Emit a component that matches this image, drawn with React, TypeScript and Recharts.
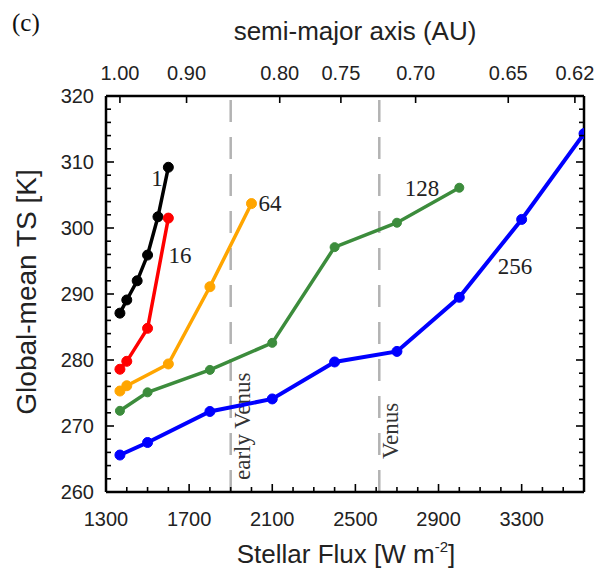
import React from "react";
import { LineChart, Line, XAxis, YAxis, ReferenceLine, ReferenceDot } from "recharts";

const SANS = '"Liberation Sans", Arial, Helvetica, sans-serif';
const SERIF = '"Liberation Serif", "Times New Roman", serif';

// solar constant used to map flux -> semi-major axis on the top axis
const SOLAR = 1367;

const FLUX_1 = [1367, 1400, 1450, 1500, 1550, 1600];
const TS_1 = [287.1, 289.1, 292.0, 295.9, 301.7, 309.2];

const FLUX_16 = [1367, 1400, 1500, 1600];
const TS_16 = [278.6, 279.8, 284.8, 301.5];

const FLUX_64 = [1367, 1400, 1600, 1800, 2000];
const TS_64 = [275.3, 276.1, 279.4, 291.1, 303.7];

const FLUX_128 = [1367, 1500, 1800, 2100, 2400, 2700, 3000];
const TS_128 = [272.3, 275.1, 278.5, 282.6, 297.1, 300.8, 306.1];

const FLUX_256 = [1367, 1500, 1800, 2100, 2400, 2700, 3000, 3300, 3600];
const TS_256 = [265.6, 267.5, 272.2, 274.1, 279.7, 281.3, 289.5, 301.3, 314.3];

const TAG_TEXT = ["1", "16", "64", "128", "256"];
const TAG_FLUX = [1545, 1656, 2089, 2821, 3268];
const TAG_TS = [307.6, 295.9, 303.8, 306.1, 294.2];

const FLUX_TICKS = [1300, 1700, 2100, 2500, 2900, 3300];
const TS_TICKS = [260, 270, 280, 290, 300, 310, 320];
const AU_TICKS = [1.0, 0.9, 0.8, 0.75, 0.7, 0.65, 0.62];
const AU_LABELS = ["1.00", "0.90", "0.80", "0.75", "0.70", "0.65", "0.62"];

const EARLY_VENUS = 1900;
const VENUS = 2615;

const range = (a: number, b: number, step: number) => {
  const out: number[] = [];
  for (let v = a; v <= b; v += step) out.push(v);
  return out;
};
const FLUX_ALL = range(1300, 3500, 100);
const TS_ALL = range(260, 320, 2);
const AU_FLUX = AU_TICKS.map((a) => SOLAR / (a * a));

const pts = (flux: number[], ts: number[]) => flux.map((f, i) => ({ flux: f, ts: ts[i] }));

const SERIES = [
  { key: "1", data: pts(FLUX_1, TS_1), color: "#000000", width: 3.5, r: 5 },
  { key: "16", data: pts(FLUX_16, TS_16), color: "#ff0000", width: 3.5, r: 5 },
  { key: "64", data: pts(FLUX_64, TS_64), color: "#ffa500", width: 3.5, r: 5 },
  { key: "128", data: pts(FLUX_128, TS_128), color: "#3c8c3c", width: 3.5, r: 4.5 },
  { key: "256", data: pts(FLUX_256, TS_256), color: "#0000ff", width: 4, r: 5 },
];

function BottomTick({ x, y, payload }: any) {
  const major = FLUX_TICKS.includes(payload.value);
  return (
    <g>
      <line x1={x} y1={y} x2={x} y2={y - (major ? 8 : 5)} stroke="#000" strokeWidth={1.6} />
      {major && (
        <text x={x} y={y + 34} textAnchor="middle" fontSize={20} fill="#222" fontFamily={SANS}>
          {payload.value}
        </text>
      )}
    </g>
  );
}

function TopTick({ x, y, payload }: any) {
  let idx = 0;
  AU_FLUX.forEach((f, i) => {
    if (Math.abs(f - payload.value) < Math.abs(AU_FLUX[idx] - payload.value)) idx = i;
  });
  return (
    <g>
      <line x1={x} y1={y} x2={x} y2={y + 7} stroke="#000" strokeWidth={1.6} />
      <text x={x} y={y - 16} textAnchor="middle" fontSize={20} fill="#222" fontFamily={SANS}>
        {AU_LABELS[idx]}
      </text>
    </g>
  );
}

function LeftTick({ x, y, payload }: any) {
  const major = TS_TICKS.includes(payload.value);
  return (
    <g>
      <line x1={x} y1={y} x2={x + (major ? 8 : 5)} y2={y} stroke="#000" strokeWidth={1.6} />
      {major && (
        <text x={x - 12} y={y + 7} textAnchor="end" fontSize={20} fill="#222" fontFamily={SANS}>
          {payload.value}
        </text>
      )}
    </g>
  );
}

function RightTick({ x, y, payload }: any) {
  const major = TS_TICKS.includes(payload.value);
  return <line x1={x} y1={y} x2={x - (major ? 8 : 5)} y2={y} stroke="#000" strokeWidth={1.6} />;
}

const vtag = (text: string, lift: number) => (props: any) => {
  const vb = props.viewBox;
  const bx = vb.x + 19;
  const by = vb.y + vb.height - lift;
  return (
    <text
      x={bx}
      y={by}
      transform={`rotate(-90 ${bx} ${by})`}
      fontSize={23}
      fill="#333"
      fontFamily={SERIF}
    >
      {text}
    </text>
  );
};

const tag = (text: string) => (props: any) => {
  const vb = props.viewBox;
  return (
    <text
      x={vb.x + vb.width / 2}
      y={vb.y + vb.height / 2 + 8}
      textAnchor="middle"
      fontSize={23}
      fill="#222"
      fontFamily={SERIF}
    >
      {text}
    </text>
  );
};

const topTitle = () => (
  <g>
    <text x={12} y={31} fontSize={25} fill="#111" fontFamily={SERIF}>
      (c)
    </text>
    <text x={355} y={40} textAnchor="middle" fontSize={26} fill="#222" fontFamily={SANS}>
      semi-major axis (AU)
    </text>
  </g>
);

const bottomTitle = () => (
  <text x={346} y={563} textAnchor="middle" fontSize={26} fill="#222" fontFamily={SANS}>
    Stellar Flux [W m
    <tspan fontSize={15} dy={-11}>-2</tspan>
    <tspan dy={11}>]</tspan>
  </text>
);

const leftTitle = () => (
  <text
    x={36}
    y={292}
    transform="rotate(-90 36 292)"
    textAnchor="middle"
    fontSize={28}
    fill="#222"
    fontFamily={SANS}
  >
    Global-mean TS [K]
  </text>
);

export default function App() {
  return (
    <div style={{ position: "absolute", left: 0, top: 0, width: 597, height: 572, background: "#fff" }}>
      <LineChart width={597} height={572} margin={{ top: 0, right: 0, bottom: 0, left: 0 }}>
        <XAxis
          xAxisId="bottom"
          dataKey="flux"
          type="number"
          domain={[1300, 3600]}
          ticks={FLUX_ALL}
          interval={0}
          height={80}
          tickSize={0}
          tickMargin={0}
          tickLine={false}
          tick={<BottomTick />}
          axisLine={{ stroke: "#000", strokeWidth: 2.5 }}
          allowDataOverflow
          label={bottomTitle}
        />
        <XAxis
          xAxisId="top"
          orientation="top"
          dataKey="flux"
          type="number"
          domain={[1300, 3600]}
          ticks={AU_FLUX}
          interval={0}
          height={96}
          tickSize={0}
          tickMargin={0}
          tickLine={false}
          tick={<TopTick />}
          axisLine={{ stroke: "#000", strokeWidth: 2.5 }}
          allowDataOverflow
          label={topTitle}
        />
        <YAxis
          yAxisId="left"
          type="number"
          domain={[260, 320]}
          ticks={TS_ALL}
          interval={0}
          width={106}
          tickSize={0}
          tickMargin={0}
          tickLine={false}
          tick={<LeftTick />}
          axisLine={{ stroke: "#000", strokeWidth: 2.5 }}
          allowDataOverflow
          label={leftTitle}
        />
        <YAxis
          yAxisId="right"
          orientation="right"
          type="number"
          domain={[260, 320]}
          ticks={TS_ALL}
          interval={0}
          width={13}
          tickSize={0}
          tickMargin={0}
          tickLine={false}
          tick={<RightTick />}
          axisLine={{ stroke: "#000", strokeWidth: 2.5 }}
          allowDataOverflow
        />
        <ReferenceLine
          xAxisId="bottom"
          yAxisId="left"
          x={EARLY_VENUS}
          stroke="#b3b3b3"
          strokeWidth={2.5}
          strokeDasharray="22 15"
          label={vtag("early Venus", 12)}
        />
        <ReferenceLine
          xAxisId="bottom"
          yAxisId="left"
          x={VENUS}
          stroke="#b3b3b3"
          strokeWidth={2.5}
          strokeDasharray="22 15"
          label={vtag("Venus", 33)}
        />
        {SERIES.map((s) => (
          <Line
            key={s.key}
            xAxisId="bottom"
            yAxisId="left"
            data={s.data}
            dataKey="ts"
            type="linear"
            stroke={s.color}
            strokeWidth={s.width}
            dot={{ r: s.r, fill: s.color, stroke: s.color, strokeWidth: 1 }}
            activeDot={false}
            isAnimationActive={false}
          />
        ))}
        {TAG_TEXT.map((t, i) => (
          <ReferenceDot
            key={t}
            xAxisId="bottom"
            yAxisId="left"
            x={TAG_FLUX[i]}
            y={TAG_TS[i]}
            r={1}
            fill="none"
            stroke="none"
            label={tag(t)}
          />
        ))}
      </LineChart>
    </div>
  );
}
